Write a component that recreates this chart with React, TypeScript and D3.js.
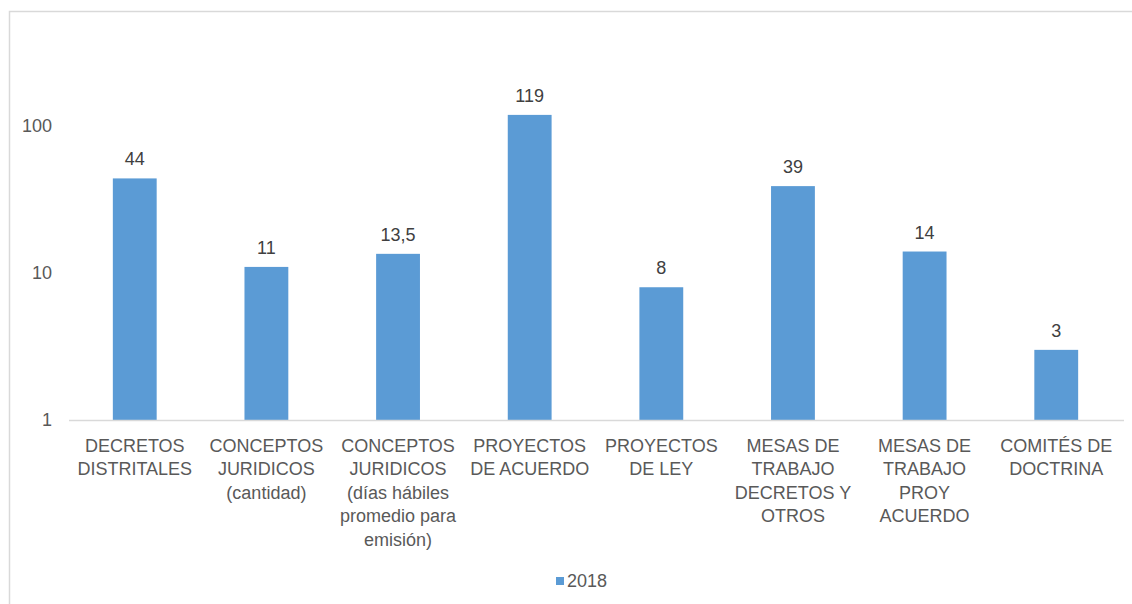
import * as d3 from 'd3';

// Chart data
const categories: string[][] = [
  ['DECRETOS', 'DISTRITALES'],
  ['CONCEPTOS', 'JURIDICOS', '(cantidad)'],
  ['CONCEPTOS', 'JURIDICOS', '(días hábiles', 'promedio para', 'emisión)'],
  ['PROYECTOS', 'DE ACUERDO'],
  ['PROYECTOS', 'DE LEY'],
  ['MESAS DE', 'TRABAJO', 'DECRETOS Y', 'OTROS'],
  ['MESAS DE', 'TRABAJO', 'PROY', 'ACUERDO'],
  ['COMITÉS DE', 'DOCTRINA'],
];
const values2018 = [44, 11, 13.5, 119, 8, 39, 14, 3];
const valueLabels = ['44', '11', '13,5', '119', '8', '39', '14', '3'];
const yTicks = [1, 10, 100];
const seriesName = '2018';

const W = 1132;
const H = 604;
const BAR = '#5B9BD5';
const TEXT = '#595959';
const FONT = '"Liberation Sans", Arial, sans-serif';
const FS = 18;

export default function App() {
  const x = d3
    .scaleBand<number>()
    .domain(categories.map((_, i) => i))
    .range([69, 1122])
    .paddingInner(0.667)
    .paddingOuter(0.333);

  const y = d3.scaleLog().domain([1, 100]).range([420, 126]);
  const cx = (i: number) => (x(i) ?? 0) + x.bandwidth() / 2;

  return (
    <svg
      width={W}
      height={H}
      style={{ position: 'absolute', left: 0, top: 0, background: '#fff' }}
      fontFamily={FONT}
    >
      {/* chart frame */}
      <rect x={9.5} y={11.5} width={W + 20} height={H + 20} fill="none" stroke="#d9d9d9" strokeWidth={1.5} />

      {/* y tick labels */}
      {yTicks.map((t) => (
        <text key={t} x={52} y={y(t)} dy="0.35em" textAnchor="end" fontSize={FS} fill={TEXT}>
          {t}
        </text>
      ))}

      {/* bars */}
      {values2018.map((v, i) => (
        <rect
          key={i}
          x={x(i)}
          y={y(v)}
          width={x.bandwidth()}
          height={y(1) - y(v)}
          fill={BAR}
        />
      ))}

      {/* x axis line */}
      <line x1={69} x2={1124} y1={420.5} y2={420.5} stroke="#d9d9d9" strokeWidth={1.5} />

      {/* value labels */}
      {values2018.map((v, i) => (
        <text key={i} x={cx(i)} y={y(v) - 13} textAnchor="middle" fontSize={FS} fill="#404040">
          {valueLabels[i]}
        </text>
      ))}

      {/* category labels */}
      {categories.map((lines, i) => (
        <text key={i} x={cx(i)} y={452} textAnchor="middle" fontSize={FS} fill={TEXT}>
          {lines.map((l, j) => (
            <tspan key={j} x={cx(i)} dy={j === 0 ? 0 : 23.4}>
              {l}
            </tspan>
          ))}
        </text>
      ))}

      {/* legend */}
      <rect x={556} y={577} width={8} height={8} fill={BAR} />
      <text x={567} y={581} dy="0.35em" fontSize={FS} fill={TEXT}>
        {seriesName}
      </text>
    </svg>
  );
}
